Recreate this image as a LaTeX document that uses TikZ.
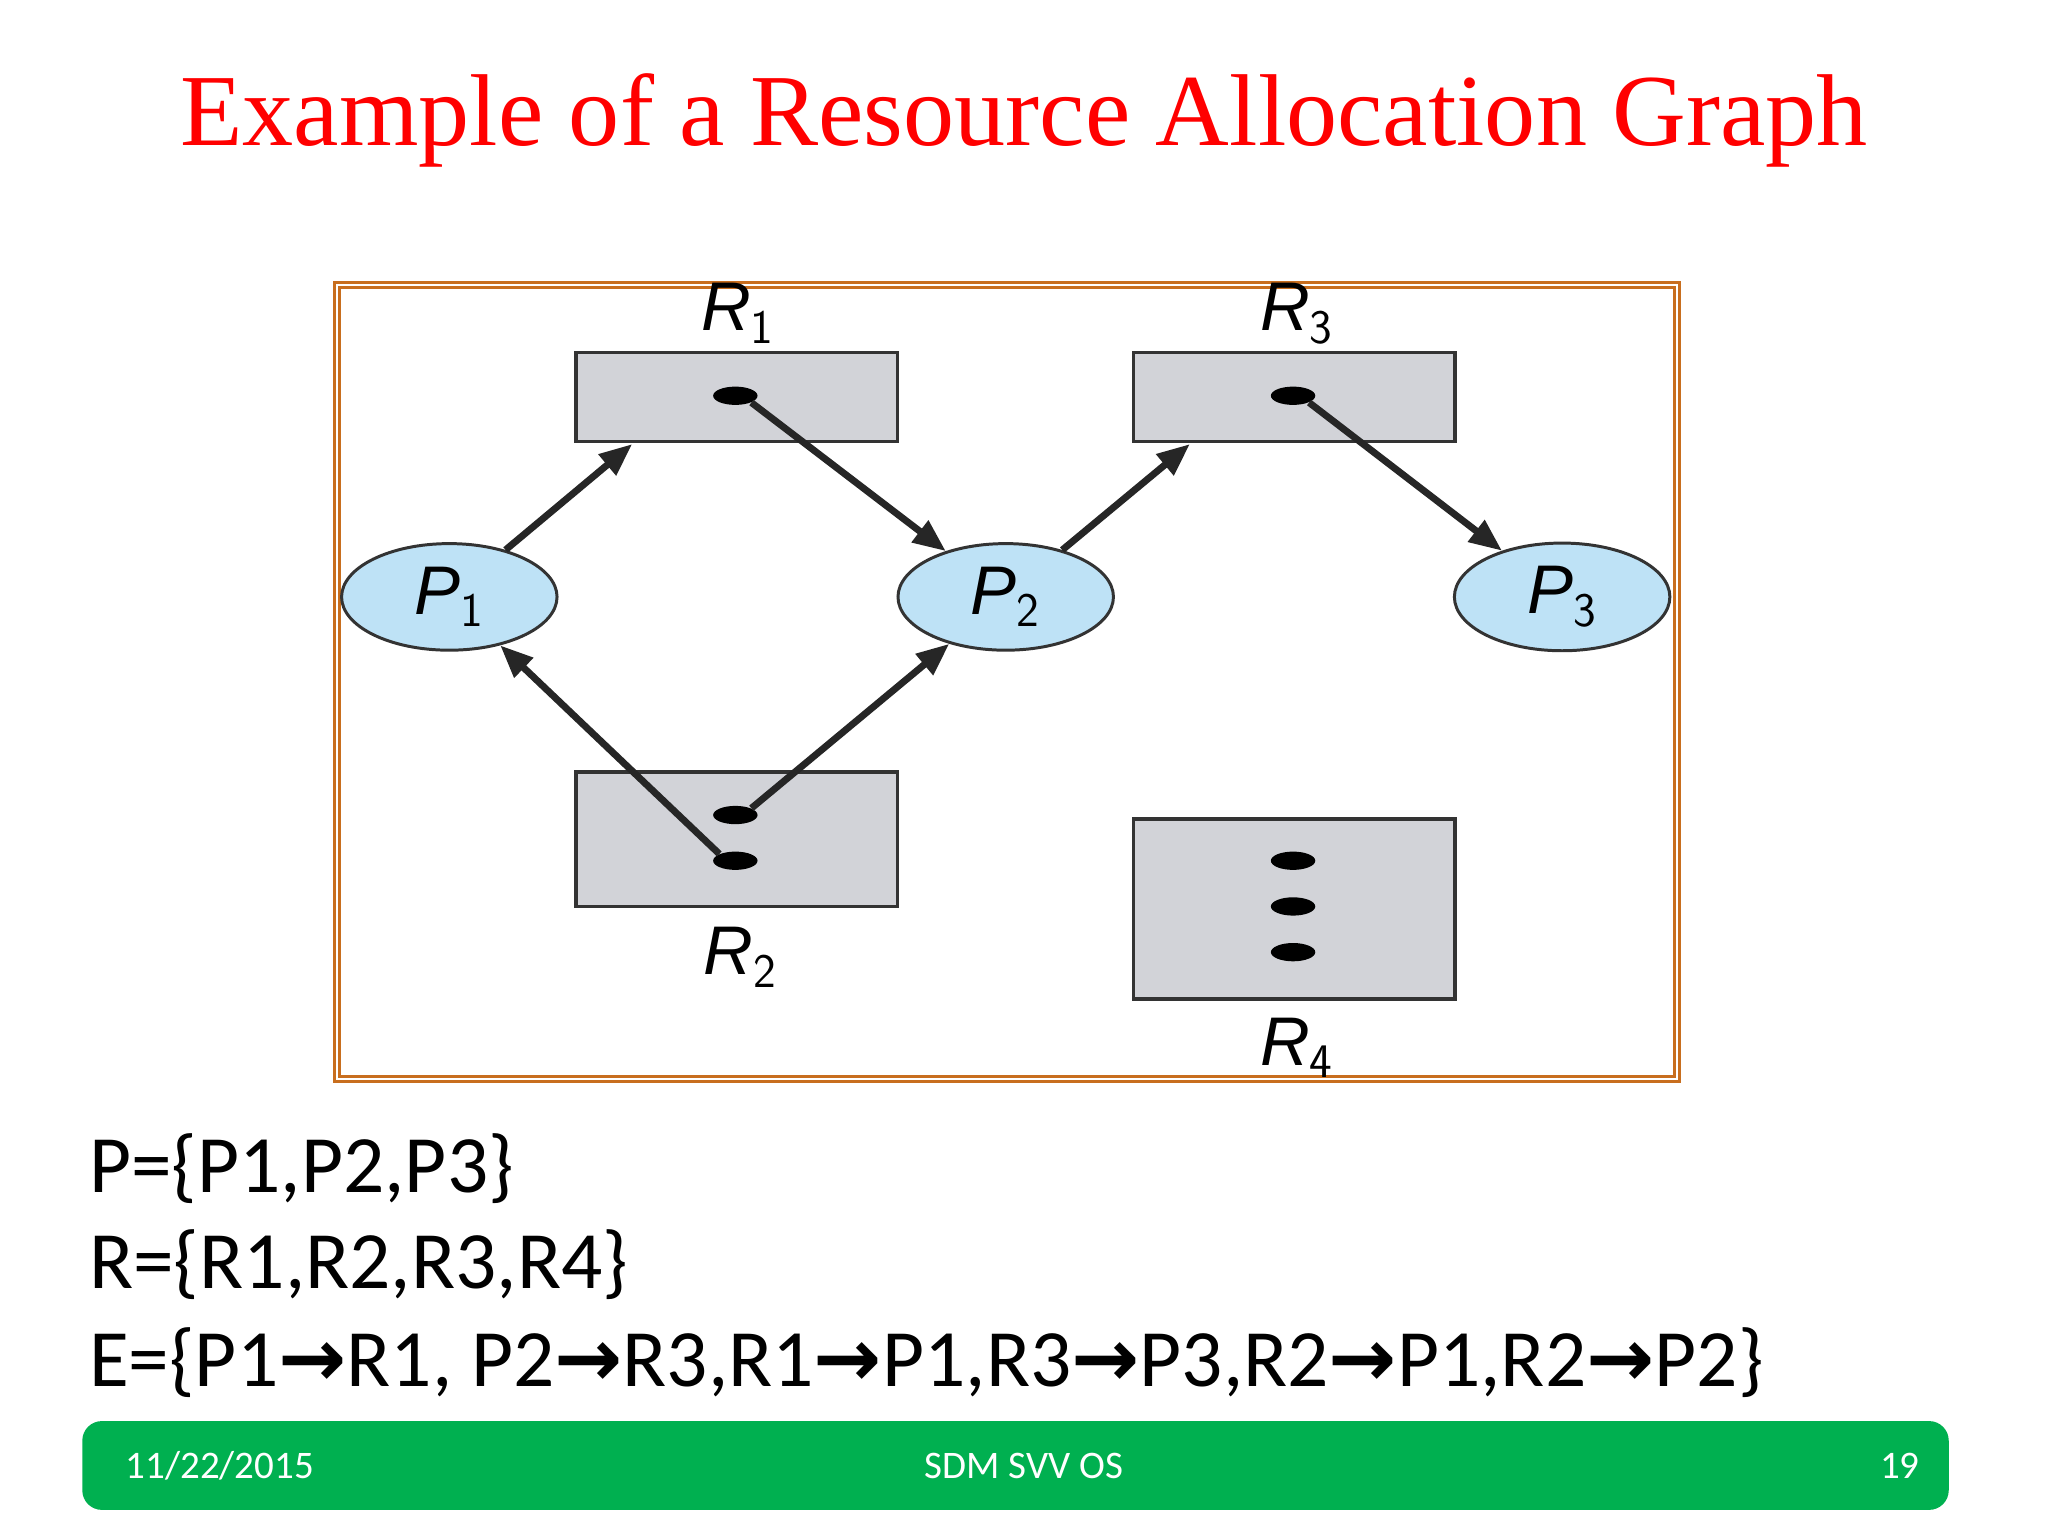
\documentclass[tikz,border=0pt]{standalone}
\usepackage{fontspec}
\setmainfont{Liberation Serif}
\newfontfamily\calfont{Carlito}
\newfontfamily\djfont{DejaVu Sans}
\newfontfamily\labfont{Liberation Sans}
\usetikzlibrary{shapes.geometric,arrows.meta}
\definecolor{pblue}{RGB}{190,226,246}
\definecolor{bgray}{RGB}{210,211,216}
\definecolor{fgreen}{RGB}{0,176,80}
\definecolor{framec}{RGB}{200,110,30}
\tikzset{
 res/.style={draw=black!80,fill=bgray,line width=1.5pt},
 proc/.style={ellipse,draw=black!80,fill=pblue,line width=1.3pt,minimum width=3.3cm,minimum height=1.3cm,font=\labfont\itshape\fontsize{30}{30}\selectfont},
 dotn/.style={ellipse,fill=black,minimum width=0.68cm,minimum height=0.28cm,inner sep=0pt},
 rlab/.style={font=\labfont\itshape\fontsize{30}{30}\selectfont},
 edge/.style={-{Triangle[length=0.5cm,width=0.4cm]},line width=3pt,black!85},
 setn/.style={anchor=west,font=\calfont\fontsize{35.5}{36}\selectfont},
 foot/.style={white,font=\calfont\fontsize{17}{17}\selectfont}
}
\begin{document}
\begin{tikzpicture}[x=0.02cm,y=-0.02cm]
\useasboundingbox[fill=white] (0,0) rectangle (1568,1176);
\node[red,font=\fontsize{44.5}{50}\selectfont] (title) at (784,92) {Example of a Resource Allocation Graph};
\draw[framec,line width=1.2pt] (256,216) rectangle (1286,828);
\draw[framec,line width=1.2pt] (260,220) rectangle (1282,824);
\draw[res] (441,270) rectangle (687,338);
\draw[res] (868,270) rectangle (1114,338);
\draw[res] (441,591) rectangle (687,694);
\draw[res] (868,627) rectangle (1114,765);
\node[dotn] (d1) at (563,303) {};
\node[dotn] (d3) at (990,303) {};
\node[dotn] (d2a) at (563,624) {};
\node[dotn] (d2b) at (563,659) {};
\node[dotn] (d4a) at (990,659) {};
\node[dotn] (d4b) at (990,694) {};
\node[dotn] (d4c) at (990,729) {};
\node[rlab] (l1) at (565,240) {R$_{\mathsf 1}$};
\node[rlab] (l3) at (993,240) {R$_{\mathsf 3}$};
\node[rlab] (l2) at (567,733) {R$_{\mathsf 2}$};
\node[rlab] (l4) at (993,802) {R$_{\mathsf 4}$};
\node[proc] (p1) at (344,457) {P$_{\mathsf 1}$};
\node[proc] (p2) at (770,457) {P$_{\mathsf 2}$};
\node[proc] (p3) at (1196,457) {P$_{\mathsf 3}$};
\coordinate (r1in) at (484,340);
\coordinate (r3in) at (911,340);
\draw[edge] (p1) -- (r1in);
\draw[edge] (d1.south east) -- (p2);
\draw[edge] (p2) -- (r3in);
\draw[edge] (d3.south east) -- (p3);
\draw[edge] (d2b.north west) -- (p1);
\draw[edge] (d2a.north east) -- (p2);
\node[setn] (sp) at (62,895) {P=\{P1,P2,P3\}};
\node[setn] (sr) at (62,968) {R=\{R1,R2,R3,R4\}};
\node[setn] (se) at (62,1043) {E=\{P1{\djfont\bfseries →}R1, P2{\djfont\bfseries →}R3,R1{\djfont\bfseries →}P1,R3{\djfont\bfseries →}P3,R2{\djfont\bfseries →}P1,R2{\djfont\bfseries →}P2\}};
\fill[fgreen,rounded corners=0.3cm] (63,1088) rectangle (1492,1156);
\node[foot,anchor=west] (fd) at (90,1122) {11/22/2015};
\node[foot] (fc) at (784,1122) {SDM SVV OS};
\node[foot,anchor=east] (fn) at (1476,1122) {19};
\end{tikzpicture}
\end{document}
